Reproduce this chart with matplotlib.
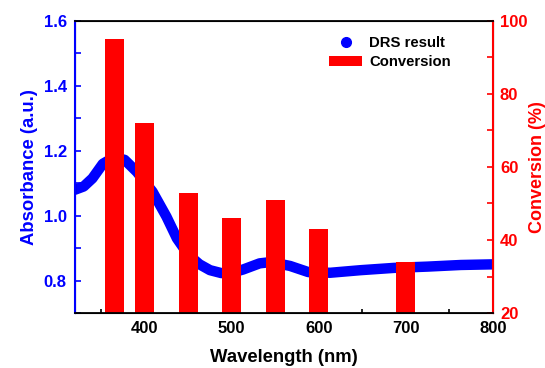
import numpy as np
import matplotlib
matplotlib.use('Agg')
import matplotlib.pyplot as plt
from matplotlib.lines import Line2D
from matplotlib.patches import Patch
from matplotlib.ticker import MultipleLocator

plt.rcParams['font.family'] = ['Liberation Sans', 'DejaVu Sans']
plt.rcParams['font.weight'] = 'bold'

# DRS curve
comprimento = [320, 330, 340, 352, 365, 377, 391, 409, 425, 437, 450, 463, 475, 488, 500,
               513, 532, 545, 567, 588, 613, 648, 686, 725, 763, 800]
absorbancia = [1.08, 1.09, 1.115, 1.16, 1.18, 1.172, 1.135, 1.074, 0.997, 0.93, 0.88,
               0.85, 0.832, 0.823, 0.824, 0.834, 0.853, 0.857, 0.845, 0.826, 0.824,
               0.832, 0.839, 0.843, 0.848, 0.85]

# conversao por comprimento de onda
barras_x = [365, 400, 450, 500, 550, 600, 700]
conversao = [95, 72, 53, 46, 51, 43, 34]

azul = '#0000ff'
vermelho = '#ff0000'

fig = plt.figure(figsize=(5.45, 3.68), dpi=100)
ax1 = fig.add_axes([75/545, 1 - 313/368, (493 - 75)/545, (313 - 21)/368])
ax2 = ax1.twinx()

ax1.plot(comprimento, absorbancia, '-', color=azul, lw=7.5, solid_capstyle='round')
ax1.set_xlim(320, 800)
ax1.set_ylim(0.7, 1.6)

ax2.bar(barras_x, [c - 20 for c in conversao], width=22, bottom=20, color=vermelho)
ax2.set_ylim(20, 100)

ax1.xaxis.set_major_locator(MultipleLocator(100))
ax1.xaxis.set_minor_locator(MultipleLocator(50))
ax1.yaxis.set_major_locator(MultipleLocator(0.2))
ax1.yaxis.set_minor_locator(MultipleLocator(0.1))
ax2.yaxis.set_major_locator(MultipleLocator(20))
ax2.yaxis.set_minor_locator(MultipleLocator(10))

ax1.tick_params(axis='x', which='both', direction='in', length=4, width=1.2,
                labelsize=12, colors='black', pad=6)
ax1.tick_params(axis='x', which='minor', length=3)
ax1.tick_params(axis='y', which='both', direction='in', length=4, width=1.2,
                labelsize=12, colors=azul, pad=6)
ax2.tick_params(axis='y', which='both', direction='in', length=4, width=1.2,
                labelsize=12, colors=vermelho, pad=5)
for lab in ax1.get_xticklabels() + ax1.get_yticklabels() + ax2.get_yticklabels():
    lab.set_fontweight('bold')
ax1.set_yticklabels([f'{v:.1f}' if v > 0.75 else '' for v in ax1.get_yticks()])

for lado in ['top', 'bottom']:
    ax2.spines[lado].set_color('black')
    ax2.spines[lado].set_linewidth(1.3)
ax2.spines['left'].set_color(azul)
ax2.spines['left'].set_linewidth(1.5)
ax2.spines['right'].set_color(vermelho)
ax2.spines['right'].set_linewidth(1.5)

ax1.set_xlabel('Wavelength (nm)', fontsize=13.3, fontweight='bold', labelpad=9)
ax1.set_ylabel('Absorbance (a.u.)', fontsize=13.3, fontweight='bold', color=azul, labelpad=4)
ax2.set_ylabel('Conversion (%)', fontsize=13, fontweight='bold', color=vermelho, labelpad=1)

handles = [Line2D([], [], marker='o', ls='none', color=azul, markersize=7),
           Patch(facecolor=vermelho)]
ax2.legend(handles, ['DRS result', 'Conversion'], loc='upper right', frameon=False,
           prop={'size': 10.7, 'weight': 'bold'}, handlelength=2.2, handletextpad=0.5,
           labelspacing=0.35, borderaxespad=0.6, bbox_to_anchor=(0.935, 1.0))

fig.savefig('out.png', dpi=100)
